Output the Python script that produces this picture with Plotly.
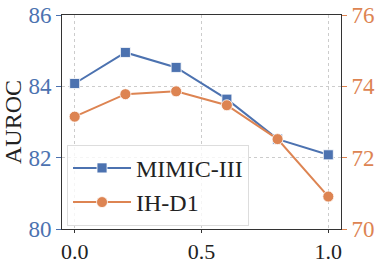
import plotly.graph_objects as go

x_vals = [0.0, 0.2, 0.4, 0.6, 0.8, 1.0]
mimic = [84.08, 84.95, 84.53, 83.64, 82.52, 82.08]
ihd1 = [73.15, 73.78, 73.86, 73.47, 72.52, 70.91]
x_ticks = [0.0, 0.5, 1.0]
x_ticklabels = ["0.0", "0.5", "1.0"]
left_ticks = [80, 82, 84, 86]
right_ticks = [70, 72, 74, 76]

BLUE = "#4C72B0"
ORANGE = "#DD8452"
FONT = "Times New Roman, Liberation Serif, serif"
FS = 24
TFS = 23

fig = go.Figure()
fig.add_trace(go.Scatter(
    x=x_vals, y=mimic, name="MIMIC-III", mode="lines+markers",
    line=dict(color=BLUE, width=2),
    marker=dict(symbol="square", size=10, color=BLUE, line=dict(color="white", width=0.8)),
    yaxis="y"))
fig.add_trace(go.Scatter(
    x=x_vals, y=ihd1, name="IH-D1", mode="lines+markers",
    line=dict(color=ORANGE, width=2),
    marker=dict(symbol="circle", size=11, color=ORANGE, line=dict(color="white", width=0.8)),
    yaxis="y2"))

fig.update_layout(
    width=382, height=265,
    margin=dict(l=62, r=41, t=15, b=36, autoexpand=False),
    paper_bgcolor="white", plot_bgcolor="white",
    font=dict(family=FONT, size=FS, color="#222222"),
    showlegend=True,
    legend=dict(
        x=0.018, y=0.015, xanchor="left", yanchor="bottom",
        bgcolor="rgba(255,255,255,0.8)", bordercolor="#dddddd", borderwidth=1,
        font=dict(family=FONT, size=FS, color="#222222"),
        tracegroupgap=0, itemwidth=58,
        entrywidth=185, entrywidthmode="pixels",
    ),
    xaxis=dict(
        range=[-0.05, 1.05], tickvals=x_ticks, ticktext=x_ticklabels,
        showgrid=True, gridcolor="#cccccc", griddash="dot", gridwidth=1,
        showline=True, linecolor="#333333", linewidth=1, mirror=True,
        ticks="outside", ticklen=3, tickcolor="#333333",
        tickfont=dict(family=FONT, size=22, color="#222222"),
        zeroline=False, automargin=False,
    ),
    yaxis=dict(
        range=[80, 86], tickvals=left_ticks,
        title=dict(text="AUROC", font=dict(family=FONT, size=FS, color="#222222"), standoff=4),
        showgrid=True, gridcolor="#cccccc", griddash="dot", gridwidth=1,
        showline=True, linecolor="#333333", linewidth=1,
        ticks="outside", ticklen=5, tickcolor=BLUE,
        tickfont=dict(family=FONT, size=TFS, color=BLUE),
        zeroline=False, automargin=False,
    ),
    yaxis2=dict(
        range=[70, 76], tickvals=right_ticks, overlaying="y", side="right",
        showgrid=False,
        showline=True, linecolor="#333333", linewidth=1,
        ticks="outside", ticklen=5, tickcolor=ORANGE,
        tickfont=dict(family=FONT, size=TFS, color=ORANGE),
        zeroline=False, automargin=False,
    ),
)

fig.write_html("out.html", config={"displayModeBar": False},
               post_script="document.body.style.margin='0';document.body.style.overflow='hidden';")
